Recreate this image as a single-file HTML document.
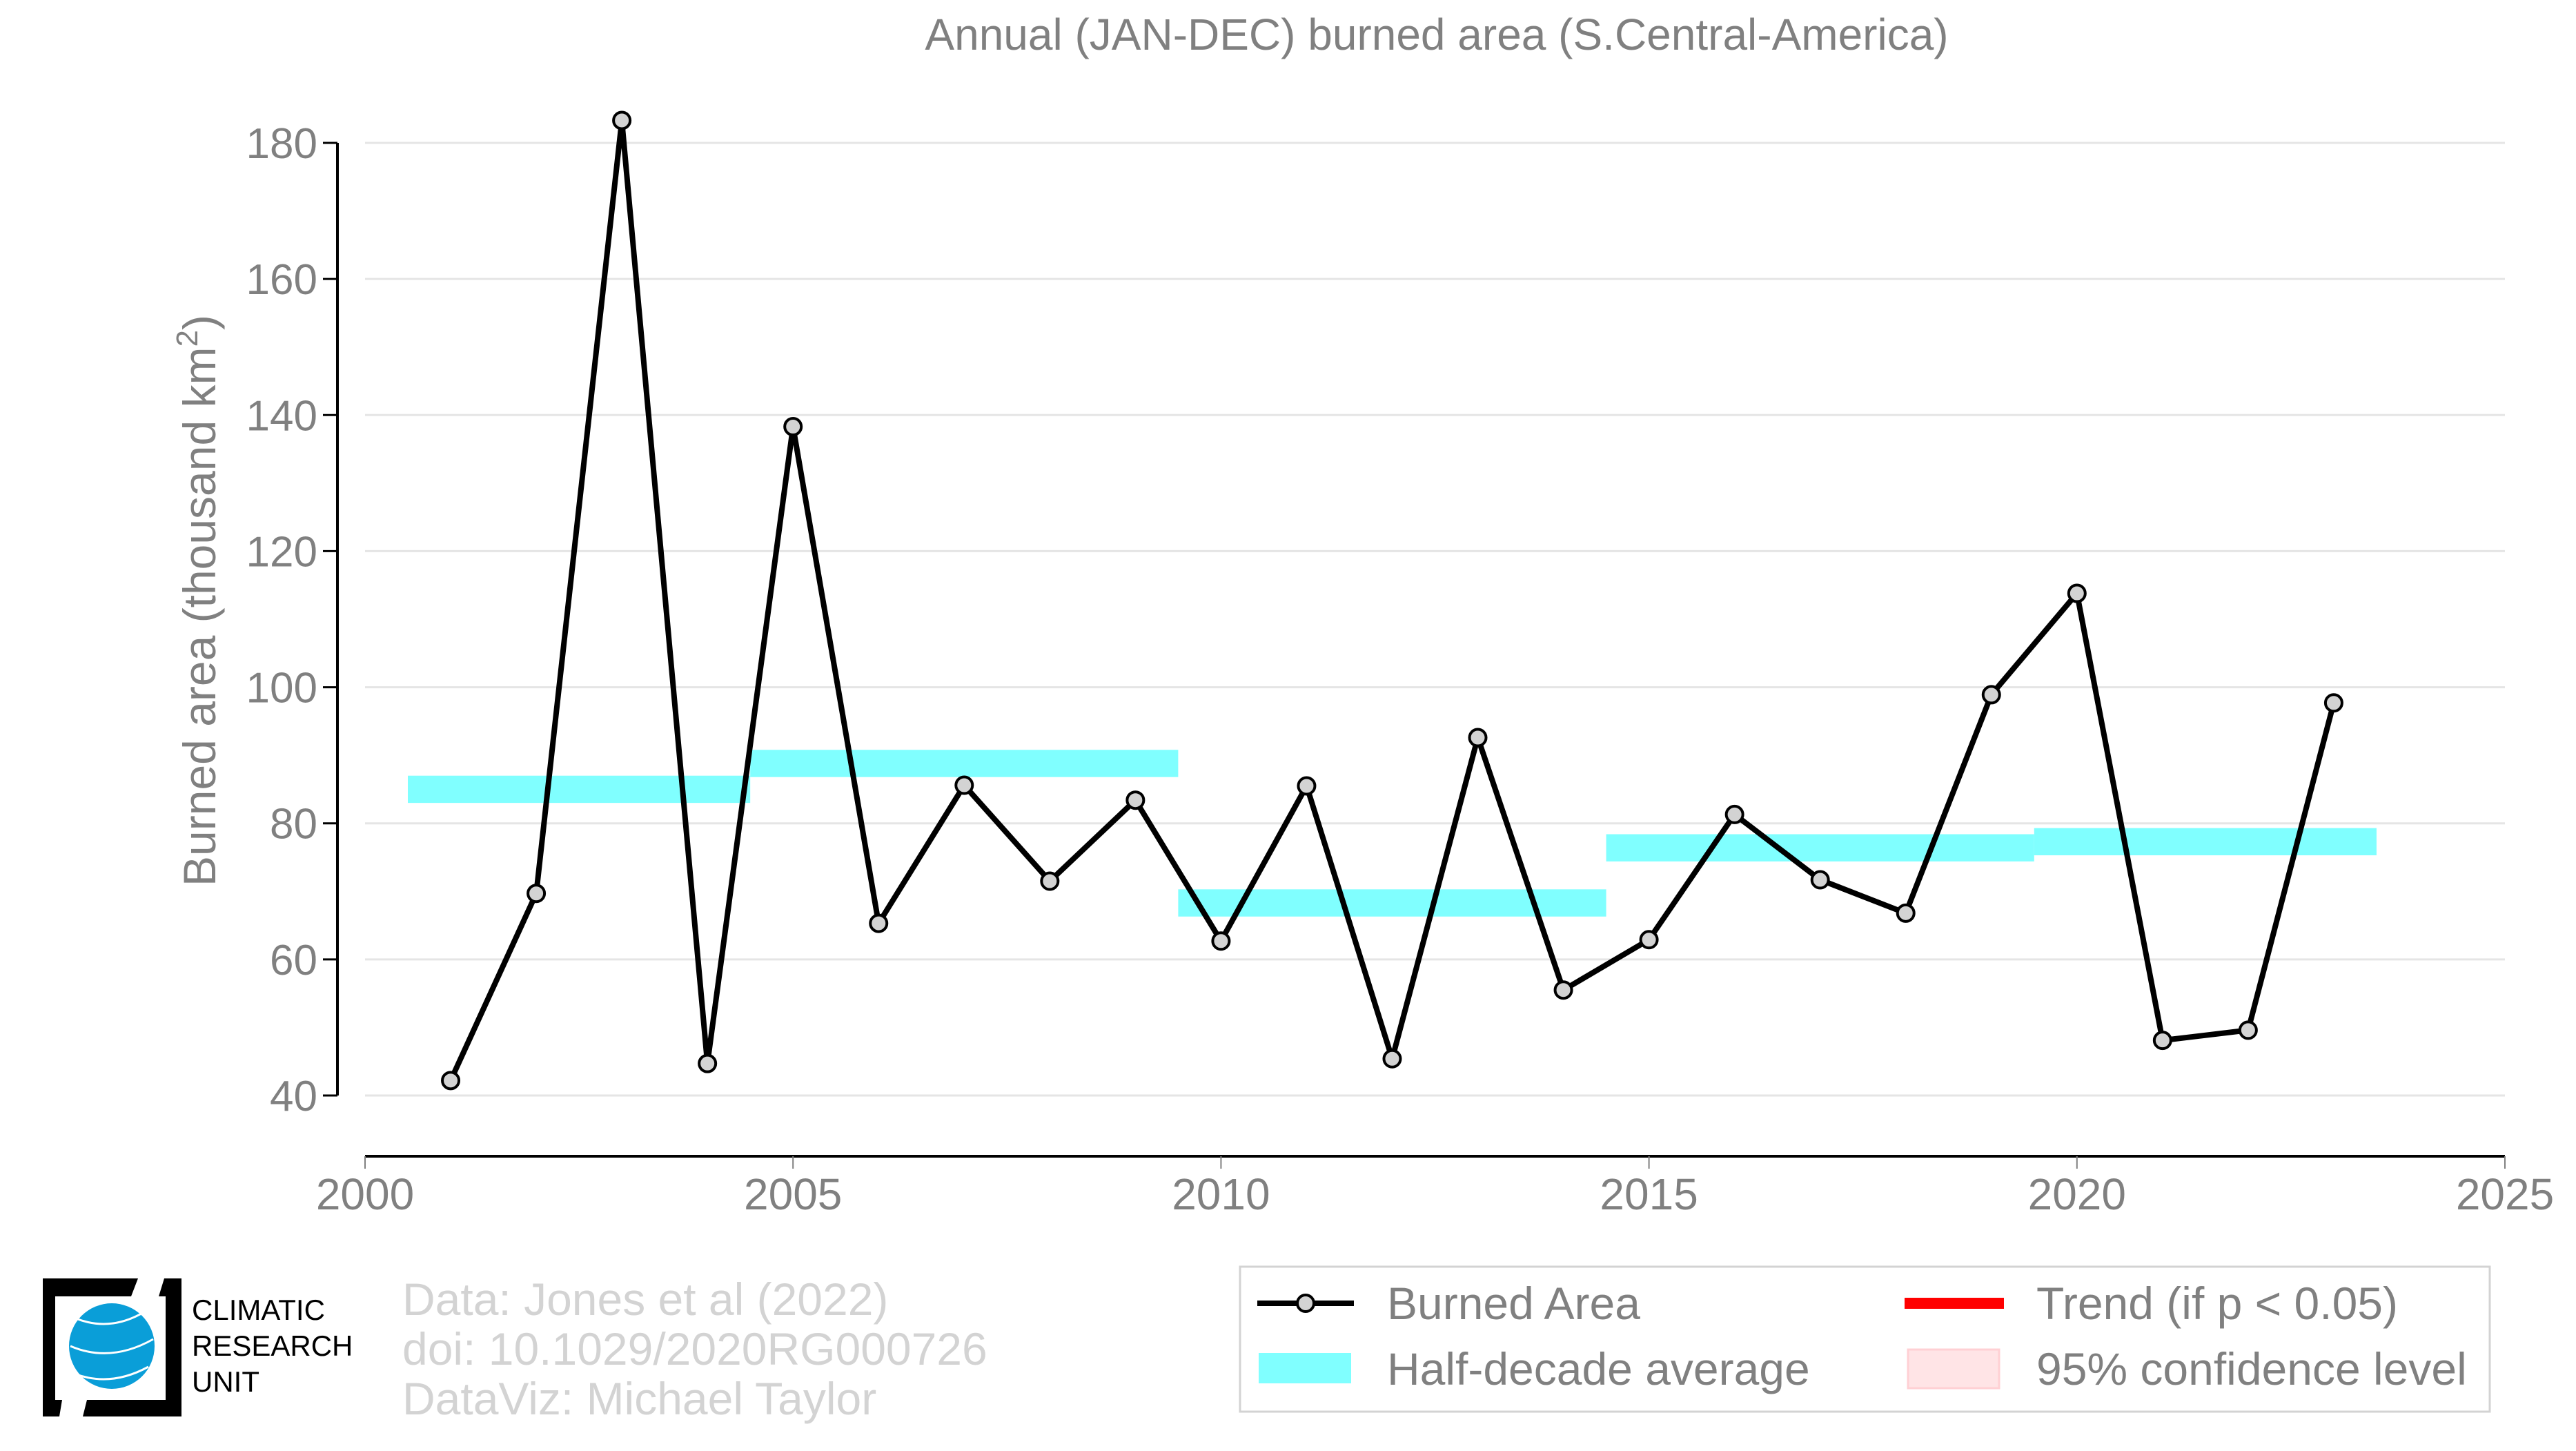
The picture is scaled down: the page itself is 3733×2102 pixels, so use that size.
<!DOCTYPE html>
<html><head><meta charset="utf-8"><style>
html,body{margin:0;padding:0;background:#fff;width:3733px;height:2102px;overflow:hidden;font-family:"Liberation Sans",sans-serif;}
</style></head><body>
<svg id="chart" width="3733" height="2102" viewBox="0 0 3733 2102" xmlns="http://www.w3.org/2000/svg">
<text x="2082" y="72" font-size="64" fill="#808080" text-anchor="middle">Annual (JAN-DEC) burned area (S.Central-America)</text>
<g id="grid"></g><g id="bands"></g><g id="series"></g><g id="axes"></g>
<text transform="translate(312,870) rotate(-90)" font-size="66" fill="#808080" text-anchor="middle">Burned area (thousand km<tspan font-size="44" dy="-26">2</tspan><tspan dy="26">)</tspan></text>
<g>
<path d="M62,1852 H200 L190,1878 H80 V2028 H90 L86,2052 H62 Z" fill="#000"/>
<path d="M238,1852 H263 V2052 H120 L126,2028 H240 V1878 H230 Z" fill="#000"/>
<circle cx="162" cy="1950" r="62" fill="#0a9ed8"/>
<path d="M110,1910 Q160,1930 210,1900 M102,1950 Q160,1975 222,1940 M108,1990 Q160,2010 215,1980" stroke="#fff" stroke-width="3" fill="none"/>
<text x="278" y="1912" font-size="42" fill="#000">CLIMATIC</text>
<text x="278" y="1964" font-size="42" fill="#000">RESEARCH</text>
<text x="278" y="2016" font-size="42" fill="#000">UNIT</text>
</g>
<g font-size="66" fill="#d3d3d3">
<text x="583" y="1905">Data: Jones et al (2022)</text>
<text x="583" y="1977">doi: 10.1029/2020RG000726</text>
<text x="583" y="2049">DataViz: Michael Taylor</text>
</g>
<g>
<rect x="1797" y="1835" width="1811" height="210" fill="#fff" stroke="#d3d3d3" stroke-width="3"/>
<g>
<line x1="1822" y1="1888" x2="1962" y2="1888" stroke="#000" stroke-width="8"/>
<circle cx="1892" cy="1888" r="12" fill="#d3d3d3" stroke="#000" stroke-width="4"/>
<text x="2010" y="1911" font-size="66" fill="#808080">Burned Area</text></g>
<g>
<rect x="2760" y="1880" width="144" height="16" fill="#ff0000"/>
<text x="2951" y="1911" font-size="66" fill="#808080">Trend (if p &lt; 0.05)</text></g>
<g>
<rect x="1824" y="1960" width="134" height="44" fill="#80ffff"/>
<text x="2010" y="2006" font-size="66" fill="#808080">Half-decade average</text></g>
<g>
<rect x="2765" y="1955" width="132" height="56" fill="#ffe4e6" stroke="#ffd0d4" stroke-width="3"/>
<text x="2951" y="2006" font-size="66" fill="#808080">95% confidence level</text></g>
</g>
</svg>
<script>
const years=[2001,2002,2003,2004,2005,2006,2007,2008,2009,2010,2011,2012,2013,2014,2015,2016,2017,2018,2019,2020,2021,2022,2023];
const values=[42.2,69.7,183.3,44.7,138.3,65.3,85.6,71.5,83.4,62.7,85.5,45.4,92.6,55.5,62.9,81.3,71.7,66.8,98.9,113.8,48.1,49.6,97.7];
const bandStarts=[2000.5,2004.5,2009.5,2014.5,2019.5];
const bandEnds=[2004.5,2009.5,2014.5,2019.5,2023.5];
const bandValues=[85.0,88.8,68.3,76.4,77.3];
const yTicks=[40,60,80,100,120,140,160,180];
const xTicks=[2000,2005,2010,2015,2020,2025];
const NS="http://www.w3.org/2000/svg";
const X=v=>529+(v-2000)*(3630-529)/25;
const Y=v=>1587-(v-40)*(1587-207)/140;
function mk(tag,parent,attrs){const e=document.createElementNS(NS,tag);for(const k in attrs)e.setAttribute(k,attrs[k]);document.getElementById(parent).appendChild(e);return e;}
yTicks.forEach(t=>{
 const g=mk('line','grid',{x1:529,x2:3630,y1:Y(t),y2:Y(t),stroke:'#e5e5e5','stroke-width':3});
 
 
 mk('line','axes',{x1:468,x2:489,y1:Y(t),y2:Y(t),stroke:'#000','stroke-width':3});
 const l=mk('text','axes',{x:460,y:Y(t)+22,'font-size':62,fill:'#808080','text-anchor':'end'});
 l.textContent=t;
 
 
});
const ya=mk('line','axes',{x1:489,x2:489,y1:Y(180),y2:Y(40),stroke:'#000','stroke-width':4});


const xa=mk('line','axes',{x1:529,x2:3630,y1:1675,y2:1675,stroke:'#000','stroke-width':4});


xTicks.forEach(t=>{
 mk('line','axes',{x1:X(t),x2:X(t),y1:1675,y2:1693,stroke:'#808080','stroke-width':2});
 const l=mk('text','axes',{x:X(t),y:1752,'font-size':64,fill:'#808080','text-anchor':'middle'});
 l.textContent=t;
 
 
});
bandValues.forEach((v,i)=>{
 const r=mk('rect','bands',{x:X(bandStarts[i]),width:X(bandEnds[i])-X(bandStarts[i]),y:Y(v+2),height:Y(v-2)-Y(v+2),fill:'#80ffff'});
 
 
});
const p=mk('polyline','series',{points:years.map((y,i)=>X(y)+','+Y(values[i])).join(' '),fill:'none',stroke:'#000','stroke-width':8,'stroke-linejoin':'miter'});


years.forEach((y,i)=>{
 const c=mk('circle','series',{cx:X(y),cy:Y(values[i]),r:12,fill:'#d3d3d3',stroke:'#000','stroke-width':4});
 
 
});
</script>
</body></html>
